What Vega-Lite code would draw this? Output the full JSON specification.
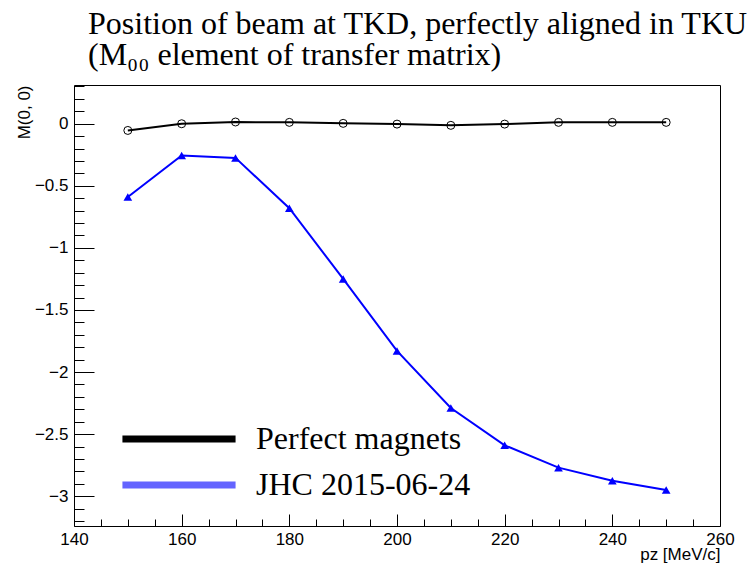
{
  "$schema": "https://vega.github.io/schema/vega-lite/v6.json",
  "width": 646,
  "height": 441,
  "autosize": "none",
  "padding": {"left": 74, "top": 85, "right": 27, "bottom": 39},
  "background": "white",
  "config": {
    "view": {"stroke": "black", "strokeWidth": 1},
    "font": "Liberation Sans",
    "axis": {"labelColor": "black", "tickColor": "black", "titleColor": "black", "labelFont": "Liberation Sans", "titleFont": "Liberation Sans", "titleFontWeight": "normal", "grid": false, "domain": false}
  },
  "title": {
    "text": ["Position of beam at TKD, perfectly aligned in TKU", "(M₀₀ element of transfer matrix)"],
    "anchor": "start",
    "frame": "group",
    "font": "Liberation Serif",
    "fontSize": 32,
    "fontWeight": "normal",
    "lineHeight": 31,
    "color": "black",
    "dx": 14,
    "offset": 13
  },
  "data": {
    "values": [
      {"series": "Perfect magnets", "pz": 150, "m": -0.054},
      {"series": "Perfect magnets", "pz": 160, "m": 0.0},
      {"series": "Perfect magnets", "pz": 170, "m": 0.014},
      {"series": "Perfect magnets", "pz": 180, "m": 0.011},
      {"series": "Perfect magnets", "pz": 190, "m": 0.003},
      {"series": "Perfect magnets", "pz": 200, "m": -0.003},
      {"series": "Perfect magnets", "pz": 210, "m": -0.013},
      {"series": "Perfect magnets", "pz": 220, "m": -0.003},
      {"series": "Perfect magnets", "pz": 230, "m": 0.011},
      {"series": "Perfect magnets", "pz": 240, "m": 0.011},
      {"series": "Perfect magnets", "pz": 250, "m": 0.011},
      {"series": "JHC 2015-06-24", "pz": 150, "m": -0.59},
      {"series": "JHC 2015-06-24", "pz": 160, "m": -0.255},
      {"series": "JHC 2015-06-24", "pz": 170, "m": -0.275},
      {"series": "JHC 2015-06-24", "pz": 180, "m": -0.68},
      {"series": "JHC 2015-06-24", "pz": 190, "m": -1.25},
      {"series": "JHC 2015-06-24", "pz": 200, "m": -1.83},
      {"series": "JHC 2015-06-24", "pz": 210, "m": -2.29},
      {"series": "JHC 2015-06-24", "pz": 220, "m": -2.59},
      {"series": "JHC 2015-06-24", "pz": 230, "m": -2.77},
      {"series": "JHC 2015-06-24", "pz": 240, "m": -2.875},
      {"series": "JHC 2015-06-24", "pz": 250, "m": -2.95}
    ]
  },
  "layer": [
    {
      "transform": [{"filter": "datum.series === 'Perfect magnets'"}],
      "mark": {"type": "line", "strokeWidth": 2, "color": "black"},
      "encoding": {
        "x": {
          "field": "pz", "type": "quantitative",
          "scale": {"domain": [140, 260], "nice": false, "zero": false},
          "axis": {
            "orient": "bottom",
            "values": [140, 160, 180, 200, 220, 240, 260],
            "format": "d",
            "tickSize": -12,
            "labelPadding": 17,
            "labelFontSize": 17,
            "labelFlush": false,
            "labelOverlap": false,
            "title": "pz [MeV/c]",
            "titleFontSize": 17,
            "titleAnchor": "end",
            "titleAlign": "right",
            "titlePadding": -1
          }
        },
        "y": {
          "field": "m", "type": "quantitative",
          "scale": {"domain": [-3.24, 0.312], "nice": false, "zero": false},
          "axis": {
            "orient": "left",
            "values": [-3, -2.5, -2, -1.5, -1, -0.5, 0],
            "format": "~g",
            "tickSize": -20,
            "labelPadding": 26,
            "labelFontSize": 17,
            "labelFlush": false,
            "labelOverlap": false,
            "title": "M(0, 0)",
            "titleFontSize": 17,
            "titleAnchor": "end",
            "titlePadding": 1
          }
        }
      }
    },
    {
      "transform": [{"filter": "datum.series === 'JHC 2015-06-24'"}],
      "mark": {"type": "line", "strokeWidth": 2, "color": "blue"},
      "encoding": {
        "x": {
          "field": "pz", "type": "quantitative",
          "axis": {
            "orient": "bottom",
            "values": [145, 150, 155, 165, 170, 175, 185, 190, 195, 205, 210, 215, 225, 230, 235, 245, 250, 255],
            "tickSize": -7,
            "labels": false,
            "title": null
          }
        },
        "y": {
          "field": "m", "type": "quantitative",
          "axis": {
            "orient": "left",
            "values": [-3.2, -3.1, -2.9, -2.8, -2.7, -2.6, -2.4, -2.3, -2.2, -2.1, -1.9, -1.8, -1.7, -1.6, -1.4, -1.3, -1.2, -1.1, -0.9, -0.8, -0.7, -0.6, -0.4, -0.3, -0.2, -0.1, 0.1, 0.2, 0.3],
            "tickSize": -10,
            "labels": false,
            "title": null
          }
        }
      }
    },
    {
      "transform": [{"filter": "datum.series === 'Perfect magnets'"}],
      "mark": {"type": "point", "shape": "circle", "filled": false, "stroke": "black", "strokeWidth": 1, "size": 64, "opacity": 1},
      "encoding": {
        "x": {"field": "pz", "type": "quantitative", "axis": null},
        "y": {"field": "m", "type": "quantitative", "axis": null}
      }
    },
    {
      "transform": [{"filter": "datum.series === 'JHC 2015-06-24'"}],
      "mark": {"type": "point", "shape": "triangle-up", "filled": true, "fill": "blue", "size": 75, "opacity": 1},
      "encoding": {
        "x": {"field": "pz", "type": "quantitative", "axis": null},
        "y": {"field": "m", "type": "quantitative", "axis": null}
      }
    },
    {
      "transform": [{"filter": "false"}],
      "mark": {"type": "line", "strokeWidth": 7},
      "encoding": {
        "x": {"field": "pz", "type": "quantitative", "axis": null},
        "y": {"field": "m", "type": "quantitative", "axis": null},
        "color": {
          "field": "series", "type": "nominal",
          "scale": {"domain": ["Perfect magnets", "JHC 2015-06-24"], "range": ["black", "#6464ff"]},
          "legend": {
            "orient": "none",
            "legendX": 89,
            "legendY": 338,
            "title": null,
            "padding": 0,
            "symbolType": "M-8,0H8",
            "symbolSize": 200,
            "symbolStrokeWidth": 7,
            "symbolOpacity": 1,
            "labelFont": "Liberation Serif",
            "labelFontSize": 32,
            "labelColor": "black",
            "labelOffset": 61,
            "labelLimit": 0,
            "rowPadding": 14
          }
        }
      }
    }
  ],
  "resolve": {"axis": {"x": "independent", "y": "independent"}}
}
